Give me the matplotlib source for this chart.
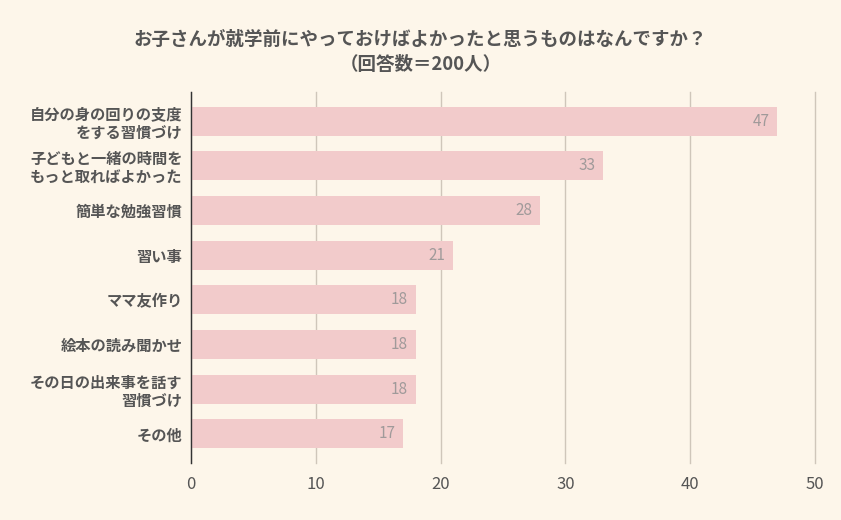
import matplotlib
matplotlib.use("Agg")
import matplotlib.pyplot as plt

plt.rcParams['font.family'] = ['Noto Sans CJK JP', 'DejaVu Sans']

categories = [
    "自分の身の回りの支度\nをする習慣づけ",
    "子どもと一緒の時間を\nもっと取ればよかった",
    "簡単な勉強習慣",
    "習い事",
    "ママ友作り",
    "絵本の読み聞かせ",
    "その日の出来事を話す\n習慣づけ",
    "その他",
]
values = [47, 33, 28, 21, 18, 18, 18, 17]
xticks = [0, 10, 20, 30, 40, 50]

bg = "#FDF6EA"
bar_color = "#F2CBCB"
text_color = "#555555"

fig = plt.figure(figsize=(8.41, 5.2), dpi=100, facecolor=bg)
ax = fig.add_axes([0.2271, 0.1096, 0.7419, 0.7134], facecolor=bg)

ypos = list(range(len(categories)))
ax.barh(ypos, values, height=0.65, color=bar_color, zorder=2)
for y, v in zip(ypos, values):
    ax.text(v - 0.6, y, str(v), ha='right', va='center', fontsize=11,
            color="#A09A9A", zorder=3)

ax.set_ylim(len(categories) - 0.35, -0.65)
ax.set_xlim(0, 50)
ax.set_xticks(xticks)
ax.set_yticks(ypos)
ax.set_yticklabels(categories, fontsize=11, fontweight='bold', color=text_color,
                   linespacing=1.15)
ax.tick_params(axis='y', length=0, pad=6)
ax.tick_params(axis='x', length=0, pad=9, labelsize=12, labelcolor=text_color)
ax.grid(axis='x', color="#CFC6BA", linewidth=1, zorder=0)
for gl in ax.get_xgridlines():
    gl.set_clip_on(False)
for s in ['top', 'right', 'bottom']:
    ax.spines[s].set_visible(False)
ax.spines['left'].set_color("#333333")
ax.spines['left'].set_linewidth(1)
ax.spines['left'].set_zorder(4)

fig.text(0.5, 0.9, "お子さんが就学前にやっておけばよかったと思うものはなんですか？\n（回答数＝200人）",
         ha='center', va='center', fontsize=13.3, fontweight='bold', color=text_color,
         linespacing=1.35)

fig.savefig("out.png", dpi=100, facecolor=bg)
